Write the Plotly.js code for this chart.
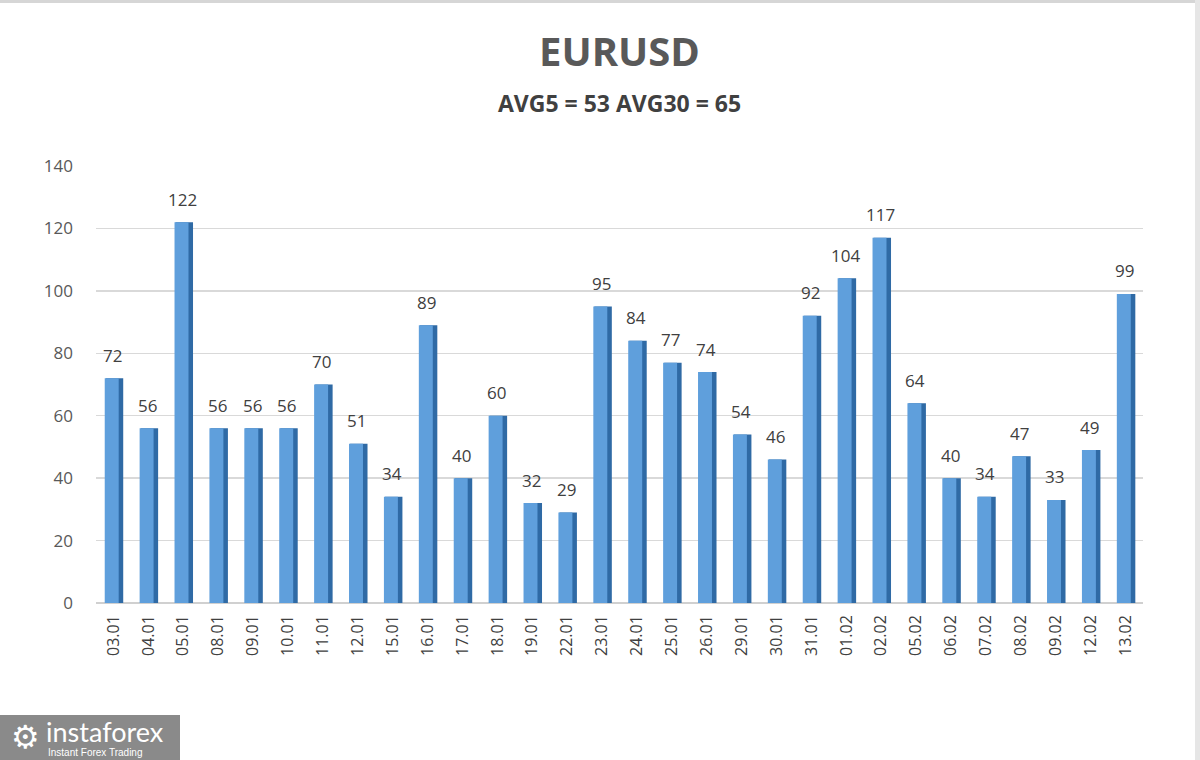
<!DOCTYPE html>
<html>
<head>
<meta charset="utf-8">
<script src="https://cdn.plot.ly/plotly-3.0.1.min.js"></script>
<style>
html,body{margin:0;padding:0;background:#fff;}
#wrap{position:relative;width:1200px;height:760px;overflow:hidden;}
#chart{width:1200px;height:760px;}
#frameTop{position:absolute;left:0;top:0;width:1200px;height:3px;background:#d6d6d6;}
#frameRight{position:absolute;right:0;top:0;width:5px;height:760px;background:#e6e6e6;}
</style>
</head>
<body>
<div id="wrap">
<div id="chart"></div>
<div id="frameTop"></div>
<div id="frameRight"></div>
</div>
<script>
const dates = ["03.01","04.01","05.01","08.01","09.01","10.01","11.01","12.01","15.01","16.01","17.01","18.01","19.01","22.01","23.01","24.01","25.01","26.01","29.01","30.01","31.01","01.02","02.02","05.02","06.02","07.02","08.02","09.02","12.02","13.02"];
const values = [72,56,122,56,56,56,70,51,34,89,40,60,32,29,95,84,77,74,54,46,92,104,117,64,40,34,47,33,49,99];
const yTicks = [0,20,40,60,80,100,120,140];
const titleText = "EURUSD";
const subtitleText = "AVG5 = 53 AVG30 = 65";

const font = "Open Sans, Segoe UI, sans-serif";

const sideTrace = {
  type: "bar", x: dates, y: values,
  width: 0.5, offset: -0.22,
  marker: {color: "#2f6aa5", line: {width: 0}},
  hoverinfo: "skip", showlegend: false
};
const faceTrace = {
  type: "bar", x: dates, y: values,
  width: 0.4, offset: -0.25,
  marker: {color: "#5f9fdc", line: {width: 0}},
  showlegend: false
};

const valueLabels = dates.map((d, i) => ({
  x: i, y: values[i], xref: "x", yref: "y",
  text: String(values[i]), showarrow: false,
  yanchor: "middle", yshift: 23, xshift: -1,
  font: {family: font, size: 17, color: "#404040"}
}));

const layout = {
  width: 1200, height: 760,
  paper_bgcolor: "#ffffff", plot_bgcolor: "#ffffff",
  margin: {l: 96, r: 57, t: 166, b: 157},
  barmode: "overlay",
  title: {
    text: "<b>" + titleText + "</b>",
    font: {family: font, size: 40, color: "#595959"},
    x: 0.5, xanchor: "center", xref: "paper",
    y: 1 - 52/760, yanchor: "middle", yref: "container"
  },
  annotations: valueLabels.concat([
    {text: "<b>" + subtitleText + "</b>", xref: "paper", yref: "paper",
     x: 0.5, xanchor: "center", y: 1 + (166-103)/437, yanchor: "middle",
     showarrow: false, font: {family: font, size: 23, color: "#404040"}},
    {text: "instaforex", xref: "paper", yref: "paper",
     x: (44-96)/1047, xanchor: "left", y: -(731-603)/437, yanchor: "middle",
     showarrow: false, font: {family: "Lato, sans-serif", size: 27, color: "#ffffff"}},
    {text: "Instant Forex Trading", xref: "paper", yref: "paper",
     x: (46-96)/1047, xanchor: "left", y: -(752-603)/437, yanchor: "middle",
     showarrow: false, font: {family: "Liberation Sans, Arial, sans-serif", size: 10, color: "#ffffff"}},
    {text: "⚙", xref: "paper", yref: "paper",
     x: (25-96)/1047, xanchor: "center", y: -(737-603)/437, yanchor: "middle",
     showarrow: false, font: {family: "DejaVu Sans", size: 32, color: "#ffffff"}}
  ]),
  shapes: [
    {type: "rect", xref: "paper", yref: "paper",
     x0: (0-96)/1047, x1: (180-96)/1047, y0: -(760-603)/437, y1: -(715-603)/437,
     fillcolor: "#8a8a8a", line: {width: 0}, layer: "above"}
  ],
  xaxis: {
    type: "category",
    categoryorder: "array", categoryarray: dates,
    range: [-0.5, dates.length - 0.5],
    tickangle: -90,
    tickfont: {family: font, size: 16, color: "#404040"},
    showgrid: false, showline: false, zeroline: false,
    ticks: "", ticklabelstandoff: 8
  },
  yaxis: {
    range: [0, 140],
    tickvals: yTicks,
    ticktext: yTicks.map(String),
    tickfont: {family: font, size: 17, color: "#595959"},
    gridcolor: "#d9d9d9", gridwidth: 1.5,
    zeroline: true, zerolinecolor: "#d0d0d0", zerolinewidth: 2,
    showline: false, ticks: "", ticklabelstandoff: 22
  }
};

Plotly.newPlot("chart", [sideTrace, faceTrace], layout, {displayModeBar: false, staticPlot: true});
</script>
</body>
</html>
